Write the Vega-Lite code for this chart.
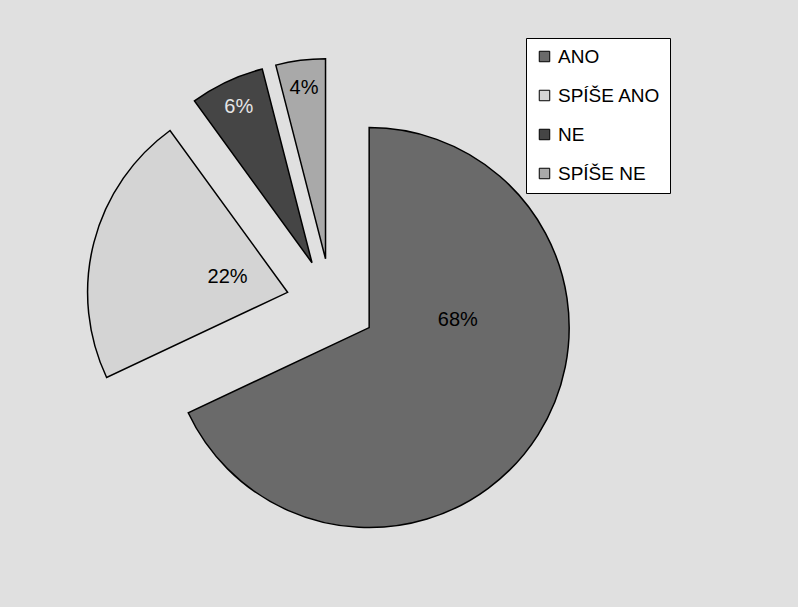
{
  "$schema": "https://vega.github.io/schema/vega-lite/v6.json",
  "width": 798,
  "height": 607,
  "autosize": {"type": "fit", "contains": "padding"},
  "padding": 0,
  "background": "#e0e0e0",
  "config": {
    "view": {"stroke": "#444444", "strokeWidth": 3},
    "font": "Liberation Sans"
  },
  "data": {
    "values": [
      {"cat": "ANO", "value": 68, "label": "68%", "ord": 1},
      {"cat": "SPÍŠE ANO", "value": 22, "label": "22%", "ord": 2},
      {"cat": "NE", "value": 6, "label": "6%", "ord": 3},
      {"cat": "SPÍŠE NE", "value": 4, "label": "4%", "ord": 4}
    ]
  },
  "transform": [
    {"stack": "value", "groupby": [], "sort": [{"field": "ord", "order": "ascending"}], "as": ["v0", "v1"], "offset": "normalize"}
  ],
  "layer": [
    {
      "mark": {
        "type": "arc",
        "outerRadius": 200,
        "stroke": "black",
        "strokeWidth": 1.5,
        "x": {"expr": "width*0.415 + 45*sin((datum.v0+datum.v1)*PI)"},
        "y": {"expr": "height*0.5 - 45*cos((datum.v0+datum.v1)*PI)"}
      },
      "encoding": {
        "theta": {"field": "v0", "type": "quantitative", "scale": {"domain": [0, 1]}, "stack": null},
        "theta2": {"field": "v1"},
        "color": {
          "field": "cat",
          "type": "nominal",
          "scale": {
            "domain": ["ANO", "SPÍŠE ANO", "NE", "SPÍŠE NE"],
            "range": ["#6a6a6a", "#d4d4d4", "#454545", "#a9a9a9"]
          },
          "legend": {
            "title": null,
            "orient": "none",
            "legendX": 526,
            "legendY": 38,
            "padding": 9,
            "fillColor": "white",
            "strokeColor": "black",
            "symbolType": "square",
            "symbolSize": 110,
            "symbolStrokeColor": "black",
            "symbolStrokeWidth": 1,
            "labelFontSize": 19,
            "labelFont": "Liberation Sans",
            "labelColor": "black",
            "labelOffset": 4,
            "rowPadding": 19,
            "labelLimit": 200
          }
        }
      }
    },
    {
      "mark": {
        "type": "text",
        "fontSize": 20,
        "font": "Liberation Sans",
        "align": "center",
        "baseline": "middle",
        "x": {"expr": "width*0.415 + 45*sin((datum.v0+datum.v1)*PI) + (datum.value<10?172:datum.value<50?62:89)*sin(datum.value<50?(datum.v0+datum.v1)*PI:1.48)"},
        "y": {"expr": "height*0.5 - 45*cos((datum.v0+datum.v1)*PI) - (datum.value<10?172:datum.value<50?62:89)*cos(datum.value<50?(datum.v0+datum.v1)*PI:1.48)"},
        "fill": {"expr": "datum.cat=='NE' ? '#e6e6e6' : 'black'"}
      },
      "encoding": {
        "text": {"field": "label", "type": "nominal"}
      }
    }
  ]
}
